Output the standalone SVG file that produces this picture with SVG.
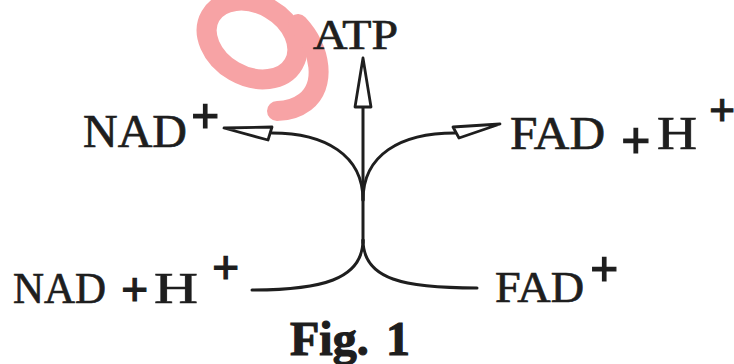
<svg xmlns="http://www.w3.org/2000/svg" width="734" height="364" viewBox="0 0 734 364">
<style>
.lbl{font-family:"Liberation Serif","Times New Roman",serif;fill:#1e1e1e;stroke:#1e1e1e;stroke-width:0.7;}
.pl{font-weight:bold;stroke-width:1.2;}
.ln{fill:none;stroke:#1e1e1e;stroke-width:3;stroke-linecap:round;}
.hd{fill:#fff;stroke:#1e1e1e;stroke-width:2.8;stroke-linejoin:round;}
.wm{fill:none;stroke:#f7a3a5;stroke-width:20;stroke-linecap:round;}
</style>
<rect width="734" height="364" fill="#fff"/>
<g id="watermark">
<ellipse class="wm" cx="252" cy="40" rx="48" ry="36" transform="rotate(30 252 40)"/>
<path class="wm" d="M298,24 C322,50 326,86 305,102 C297,108 287,111 277,111"/>
</g>
<g id="connectors">
<path class="ln" d="M363,243 L363,105"/>
<polygon class="hd" points="363,58 355,107 371,107"/>
<path class="ln" d="M272,133 C325,133 363,155 363,200"/>
<polygon class="hd" points="224,128 272,127 268,140"/>
<path class="ln" d="M455,133 C400,133 363,155 363,200"/>
<polygon class="hd" points="500,124 453,127 459,138"/>
<path class="ln" d="M252,290 C320,290 363,280 363,240"/>
<path class="ln" d="M477,288 C405,288 363,280 363,240"/>
</g>
<g id="atp"><text class="lbl" x="313" y="49" font-size="42" textLength="85" lengthAdjust="spacingAndGlyphs">ATP</text></g>
<g id="nad-plus"><text class="lbl" font-size="46"><tspan x="83" y="147" textLength="104" lengthAdjust="spacingAndGlyphs">NAD</tspan><tspan class="pl" x="191" y="133" font-size="50">+</tspan></text></g>
<g id="fad-h"><text class="lbl" font-size="46"><tspan x="510" y="149" textLength="95" lengthAdjust="spacingAndGlyphs">FAD</tspan><tspan class="pl" x="621" y="158" font-size="52">+</tspan><tspan x="657" y="149" textLength="40" lengthAdjust="spacingAndGlyphs">H</tspan><tspan class="pl" x="709" y="126" font-size="46">+</tspan></text></g>
<g id="nad-h"><text class="lbl" font-size="45"><tspan x="13" y="303" textLength="93" lengthAdjust="spacingAndGlyphs">NAD</tspan><tspan class="pl" x="121" y="306" font-size="48">+</tspan><tspan x="154" y="303" textLength="44" lengthAdjust="spacingAndGlyphs">H</tspan><tspan class="pl" x="212" y="284" font-size="48">+</tspan></text></g>
<g id="fad-plus"><text class="lbl" font-size="45"><tspan x="495" y="302" textLength="89" lengthAdjust="spacingAndGlyphs">FAD</tspan><tspan class="pl" x="590" y="286" font-size="50">+</tspan></text></g>
<g id="caption"><text class="lbl pl" font-size="48" stroke-width="0.8"><tspan x="290" y="355">Fig.</tspan><tspan x="386" y="355">1</tspan></text></g>
</svg>
